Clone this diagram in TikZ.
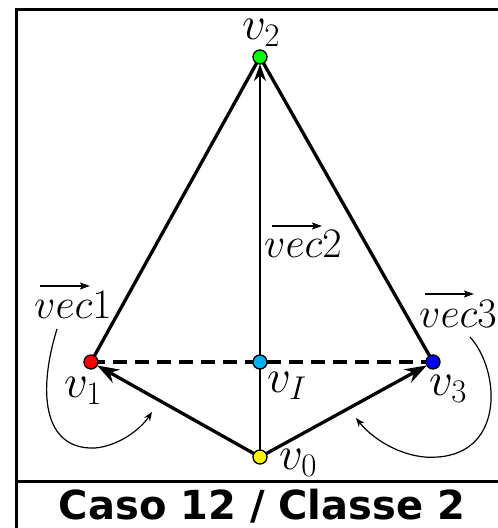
\RequirePackage{fix-cm}
\documentclass[tikz,border=0pt]{standalone}
\usepackage{fontspec}
\setsansfont{DejaVu Sans}
\usetikzlibrary{arrows.meta,calc}
\begin{document}
\begin{tikzpicture}[x=1pt,y=-1pt,
  vtx/.style={circle,draw=black,line width=1.3pt,minimum size=14pt,inner sep=0pt},
  edge/.style={line width=3.3pt},
  bigarrow/.style={line width=3.3pt,-{Stealth[length=22pt,width=15pt]}},
  curvearrow/.style={line width=1.2pt,-{Stealth[length=9pt,width=7pt]}},
  vecarrow/.style={line width=1.8pt,-{Stealth[length=10pt,width=7pt,inset=2pt]}},
  vlbl/.style={font=\fontsize{47}{52}\selectfont,inner sep=0pt,anchor=base west},
  elbl/.style={font=\fontsize{42}{46}\selectfont,inner sep=0pt,anchor=base west}]
\useasboundingbox (0,0) rectangle (498,528);
% frame
\draw[line width=3pt] (498,9) -- (16.5,9) -- (16.5,528);
\draw[line width=3pt] (16.5,481.5) -- (498,481.5);
\node[font=\fontsize{40}{44}\selectfont\sffamily\bfseries,inner sep=0pt] (title) at (262,506) {Caso 12 / Classe 2};
% vertices
\coordinate (p2) at (260,57);
\coordinate (p1) at (91,362);
\coordinate (pI) at (260,362);
\coordinate (p3) at (433,362);
\coordinate (p0) at (260,457);
% edges
\draw[edge] (p1) -- (p2);
\draw[edge] (p3) -- (p2);
\draw[edge,dash pattern=on 14pt off 8pt] (p1) -- (p3);
\draw[line width=2.9pt,-{Stealth[length=17pt,width=12pt]},shorten >=7pt] (p0) -- (p2);
\draw[bigarrow,shorten >=7pt] (p0) -- (p1);
\draw[bigarrow,shorten >=7pt] (p0) -- (p3);
% vertex dots
\node[vtx,fill=green] (v2) at (p2) {};
\node[vtx,fill=red] (v1) at (p1) {};
\node[vtx,fill=cyan] (vI) at (pI) {};
\node[vtx,fill=blue] (v3) at (p3) {};
\node[vtx,fill=yellow] (v0) at (p0) {};
% labels
\node[vlbl] (l2) at (242,39) {$v_2$};
\node[vlbl] (l1) at (64,397) {$v_1$};
\node[vlbl] (lI) at (267,392) {$v_I$};
\node[vlbl] (l3) at (429,395) {$v_3$};
\node[vlbl] (l0) at (279,469) {$v_0$};
\node[elbl] (e1) at (34,318) {$vec1$};
\node[elbl] (e2) at (264,257) {$vec2$};
\node[elbl] (e3) at (419,327) {$vec3$};
\draw[vecarrow] ($(e1.base west)+(6,-32)$) -- ($(e1.base west)+(56,-32)$);
\draw[vecarrow] ($(e2.base west)+(8,-31)$) -- ($(e2.base west)+(58,-31)$);
\draw[vecarrow] ($(e3.base west)+(6,-33)$) -- ($(e3.base west)+(55,-33)$);
% curved arrows
\coordinate (c1s) at (57,329);
\coordinate (c1m) at (95,448);
\coordinate (c1e) at (152,412);
\draw[curvearrow] (c1s) .. controls (38,390) and (42,450) .. (c1m) .. controls (118,446) and (140,430) .. (c1e);
\coordinate (c3s) at (470,337);
\coordinate (c3m) at (438,457);
\coordinate (c3e) at (356,418);
\draw[curvearrow] (c3s) .. controls (500,370) and (505,452) .. (c3m) .. controls (408,460) and (375,442) .. (c3e);
\end{tikzpicture}
\end{document}
